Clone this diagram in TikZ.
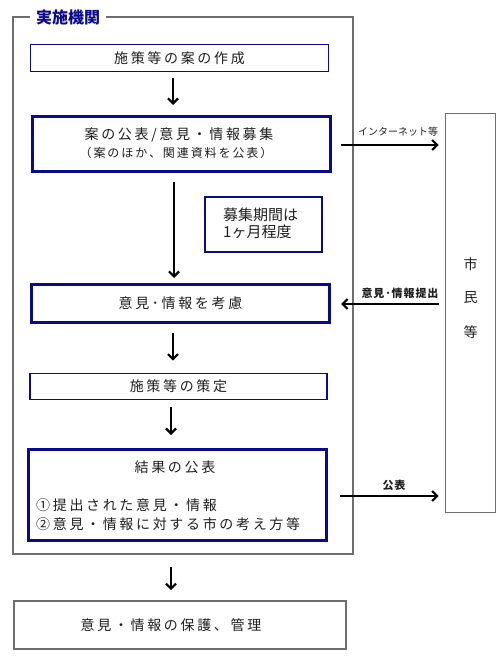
\documentclass[tikz,border=0pt]{standalone}
\usepackage{fontspec}
\setmainfont{Noto Sans CJK JP}
\newfontfamily\jp[LetterSpace=19]{Noto Sans CJK JP}
\newfontfamily\jps[LetterSpace=16]{Noto Sans CJK JP}
\newfontfamily\jpl[LetterSpace=8]{Noto Sans CJK JP}
\usetikzlibrary{arrows.meta,calc}
\definecolor{navy}{RGB}{10,10,140}
\definecolor{frameg}{RGB}{110,110,110}
\definecolor{txt}{RGB}{30,30,30}
\tikzset{
  thinbox/.style={draw=navy,line width=1.6pt,inner sep=0pt,text=txt,font=\jp\fontsize{14}{16}\selectfont},
  thickbox/.style={draw=navy,line width=3pt,inner sep=0pt,text=txt,font=\jp\fontsize{14}{16}\selectfont},
  graybox/.style={draw=frameg,line width=1.6pt,inner sep=0pt,text=txt,font=\jp\fontsize{14}{16}\selectfont},
  txtnode/.style={inner sep=0pt,text=txt,font=\jp\fontsize{14}{16}\selectfont},
  arr/.style={line width=2.2pt,-{Straight Barb[length=5pt,width=10pt,line width=2.2pt]}},
  lbl/.style={inner sep=0pt,text=txt,font=\fontsize{10}{11}\selectfont},
  lblb/.style={inner sep=0pt,text=txt,font=\jpl\fontsize{11}{12}\selectfont\bfseries},
}
\begin{document}
\begin{tikzpicture}[x=1pt,y=-1pt]
\useasboundingbox (0,0) rectangle (500,660);
% outer frame
\node[draw=frameg,line width=1.6pt,minimum width=340pt,minimum height=537pt,inner sep=0pt] (frame) at (183,285.5) {};
\node[fill=white,inner xsep=6pt,inner ysep=1pt,text=navy,font=\fontsize{16}{18}\selectfont\bfseries] (title) at (68,17) {実施機関};
% boxes
\node[thinbox,minimum width=298pt,minimum height=27pt] (b1) at (179.5,58) {施策等の案の作成};
\node[thickbox,minimum width=298pt,minimum height=55pt] (b2) at (181.5,144) {};
\node[txtnode] (b2t1) at (179,135) {案の公表/意見・情報募集};
\node[txtnode,font=\jps\fontsize{12}{14}\selectfont] (b2t2) at (176,153) {（案のほか、関連資料を公表）};
\node[draw=navy,line width=2pt,minimum width=117pt,minimum height=55pt,inner sep=0pt] (b7) at (263.5,224.5) {};
\node[inner sep=0pt,anchor=west,align=left,text=txt,font=\fontsize{15}{17}\selectfont] (b7t) at (223,223.5) {募集期間は\\1ヶ月程度};
\node[thickbox,minimum width=298pt,minimum height=38pt] (b3) at (180.5,303.5) {意見･情報を考慮};
\node[thinbox,minimum width=297pt,minimum height=26pt] (b4) at (178.5,386.5) {施策等の策定};
\node[thickbox,minimum width=298pt,minimum height=91pt] (b5) at (177.5,495) {};
\node[txtnode] (b5t1) at (175,467) {結果の公表};
\node[txtnode,anchor=west] (b5t2) at (36,505) {①提出された意見・情報};
\node[txtnode,anchor=west] (b5t3) at (36,524) {②意見・情報に対する市の考え方等};
\node[graybox,minimum width=332pt,minimum height=48pt] (b6) at (180,625) {};
\node[txtnode] (b6t) at (171,625) {意見・情報の保護、管理};
% citizens
\node[draw=frameg,line width=1.6pt,minimum width=50pt,minimum height=399pt,inner sep=0pt] (cit) at (470.5,313) {};
\node[inner sep=0pt,text=txt,font=\fontsize{14}{16}\selectfont] (c1) at (470.5,264) {市};
\node[inner sep=0pt,text=txt,font=\fontsize{14}{16}\selectfont] (c2) at (470.5,298) {民};
\node[inner sep=0pt,text=txt,font=\fontsize{14}{16}\selectfont] (c3) at (470.5,332) {等};
% vertical arrows
\draw[arr,shorten <=6pt,shorten >=10pt] ([xshift=-6.5pt]b1.south) -- ([xshift=-8.5pt]b2.north);
\draw[arr,shorten <=9.5pt,shorten >=5pt] ([xshift=-7.5pt]b2.south) -- ([xshift=-6.5pt]b3.north);
\draw[arr,shorten <=9pt,shorten >=12pt] ([xshift=-7.5pt]b3.south) -- ([xshift=-5.5pt]b4.north);
\draw[arr,shorten <=7pt,shorten >=13pt] ([xshift=-7.5pt]b4.south) -- ([xshift=-6.5pt]b5.north);
\draw[arr,shorten <=12pt,shorten >=10pt] ([xshift=-12pt]frame.south) -- ([xshift=-9pt]b6.north);
% horizontal arrows
\draw[arr,shorten <=9pt,shorten >=6pt] ([yshift=-1pt]b2.east) -- ([yshift=-1pt]cit.west |- b2.east);
\draw[arr,shorten <=6pt,shorten >=10pt] ([yshift=-0.5pt]cit.west |- b3.east) -- ([yshift=-0.5pt]b3.east);
\draw[arr,shorten <=12pt,shorten >=6pt] ([yshift=-1pt]b5.east) -- ([yshift=-1pt]cit.west |- b5.east);
\node[lbl] (l1) at (398,132) {インターネット等};
\node[lblb] (l2) at (400,293) {意見･情報提出};
\node[lblb] (l3) at (394,485) {公表};
\end{tikzpicture}
\end{document}
